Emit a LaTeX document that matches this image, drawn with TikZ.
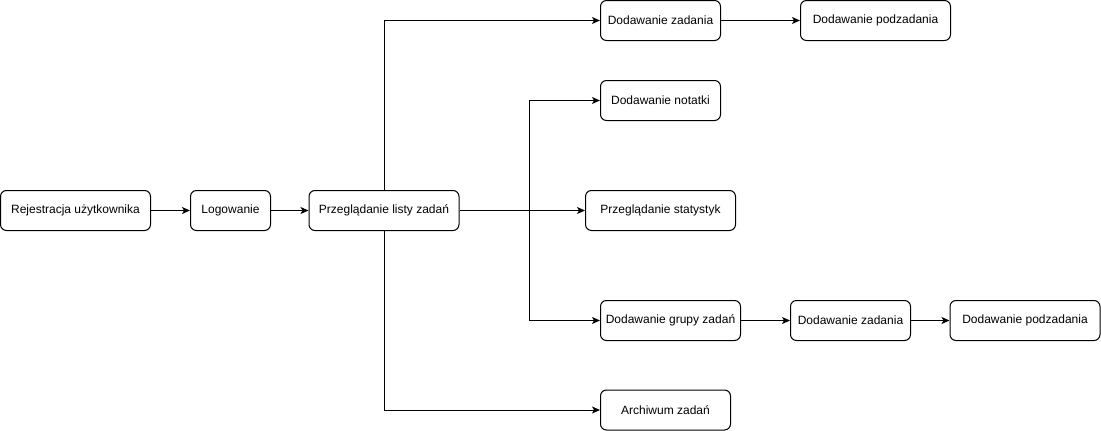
\documentclass[tikz,border=0pt]{standalone}
\usepackage{fontspec}
\setmainfont{Liberation Sans}
\usepackage{tikz}
\usetikzlibrary{arrows.meta, positioning}

\begin{document}
\begin{tikzpicture}[
  x=1pt, y=-1pt,
  box/.style={rectangle, draw=black, line width=1pt, rounded corners=6pt, align=center,
    minimum height=40pt, inner sep=0pt, font=\fontsize{12}{14}\selectfont},
  arrow/.style={-{Stealth[length=8pt, width=7pt, inset=2pt]}, line width=1pt}
]
\useasboundingbox (0,0) rectangle (1101,431);

\node (reg) [box, minimum width=150pt] at (75.5,210.5) {Rejestracja użytkownika};
\node (log) [box, minimum width=80pt] at (230.5,210.5) {Logowanie};
\node (lista) [box, minimum width=150pt] at (384,210.5) {Przeglądanie listy zadań};
\node (zad1) [box, minimum width=120pt] at (660.5,20.5) {Dodawanie zadania};
\node (pod1) [box, minimum width=150pt] at (875.5,20.5) {Dodawanie podzadania};
\node (notatka) [box, minimum width=120pt] at (660.5,100.5) {Dodawanie notatki};
\node (stat) [box, minimum width=150pt] at (660.5,210.5) {Przeglądanie statystyk};
\node (grupa) [box, minimum width=140pt] at (670.5,320.5) {Dodawanie grupy zadań};
\node (zad2) [box, minimum width=120pt] at (850.5,320.5) {Dodawanie zadania};
\node (pod2) [box, minimum width=150pt] at (1025,320.5) {Dodawanie podzadania};
\node (arch) [box, minimum width=130pt] at (665.5,410) {Archiwum zadań};

\coordinate (split) at (529.5,210.5);

\draw[arrow] (reg) -- (log);
\draw[arrow] (log) -- (lista);
\draw[arrow] (lista.north) |- (zad1.west);
\draw[arrow] (zad1) -- (pod1);
\draw[arrow] (lista.east) -- (split) |- (notatka.west);
\draw[arrow] (lista) -- (stat);
\draw[arrow] (lista.east) -- (split) |- (grupa.west);
\draw[arrow] (grupa) -- (zad2);
\draw[arrow] (zad2) -- (pod2);
\draw[arrow] (lista.south) |- (arch.west);

\end{tikzpicture}
\end{document}
